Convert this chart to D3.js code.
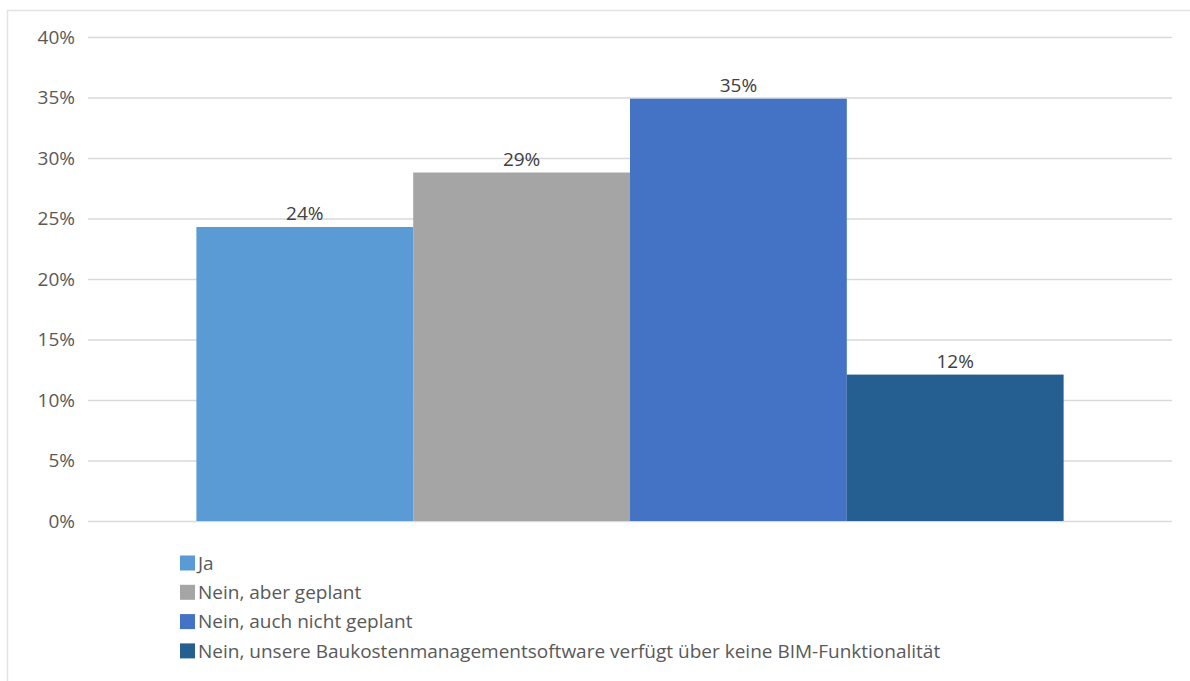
<!DOCTYPE html>
<html>
<head>
<meta charset="utf-8">
<script src="https://cdn.jsdelivr.net/npm/d3@7"></script>
<style>
  body { margin: 0; background: #fff; }
  svg { display: block; font-family: "Open Sans", sans-serif; }
</style>
</head>
<body>
<div id="chart"></div>
<script>
var width = 1190, height = 681;
var margin = {top: 37, right: 18, bottom: 160, left: 88};

// data
var series = ["Ja", "Nein, aber geplant", "Nein, auch nicht geplant",
              "Nein, unsere Baukostenmanagementsoftware verfügt über keine BIM-Funktionalität"];
var values = [24.3, 28.8, 34.9, 12.1];
var colors = ["#5b9bd5", "#a5a5a5", "#4472c4", "#255e91"];
var yTicks = [0, 5, 10, 15, 20, 25, 30, 35, 40];

var svg = d3.select("#chart")
            .append("svg")
                .attr("width", width)
                .attr("height", height);

// outer frame (only top and left visible)
svg.append("path")
    .attr("d", "M7.5," + height + "V10.5H" + width)
    .attr("fill", "none")
    .attr("stroke", "#e3e3e3")
    .attr("stroke-width", 1.5);

var xScale = d3.scaleBand()
                .domain(series)
                .range([margin.left, width - margin.right])
                .paddingInner(0)
                .paddingOuter(0.5);

var yScale = d3.scaleLinear()
                .domain([0, 40])
                .range([521, margin.top]);

var colorScale = d3.scaleOrdinal()
    .domain(series)
    .range(colors);

// grid lines
svg.append("g")
    .attr("transform", "translate(" + margin.left + ",0)")
    .call(d3.axisLeft(yScale)
            .tickValues(yTicks)
            .tickSize(-(width - margin.right - margin.left))
            .tickFormat(""))
    .call(function(g) { g.select(".domain").remove(); })
    .selectAll("line")
        .attr("stroke", "#d9d9d9")
        .attr("stroke-width", 1.5);

// y labels
svg.append("g")
    .selectAll("text")
    .data(yTicks)
    .enter()
    .append("text")
        .attr("x", 75)
        .attr("y", function(d) { return yScale(d); })
        .attr("dy", "0.35em")
        .attr("text-anchor", "end")
        .attr("font-size", 19)
        .attr("fill", "#595959")
        .text(function(d) { return d + "%"; });

// bars
svg.append("g")
    .selectAll("rect")
    .data(values)
    .enter()
    .append("rect")
        .attr("x", function(d, i) { return xScale(series[i]); })
        .attr("y", function(d) { return yScale(d); })
        .attr("width", xScale.bandwidth())
        .attr("height", function(d) { return yScale(0) - yScale(d); })
        .attr("fill", function(d, i) { return colorScale(series[i]); });

// value labels
svg.append("g")
    .selectAll("text")
    .data(values)
    .enter()
    .append("text")
        .attr("x", function(d, i) { return xScale(series[i]) + xScale.bandwidth() / 2; })
        .attr("y", function(d) { return yScale(d) - 7; })
        .attr("text-anchor", "middle")
        .attr("font-size", 19)
        .attr("fill", "#404040")
        .text(function(d) { return Math.round(d) + "%"; });

// legend
var legend = svg.append("g")
    .selectAll("g")
    .data(series)
    .enter()
    .append("g")
        .attr("transform", function(d, i) { return "translate(180," + (563 + i * 29.3) + ")"; });

legend.append("rect")
    .attr("x", 0)
    .attr("y", -7.5)
    .attr("width", 15)
    .attr("height", 15)
    .attr("fill", function(d) { return colorScale(d); });

legend.append("text")
    .attr("x", 18)
    .attr("dy", "0.35em")
    .attr("font-size", 19)
    .attr("fill", "#595959")
    .text(function(d) { return d; });
</script>
</body>
</html>
